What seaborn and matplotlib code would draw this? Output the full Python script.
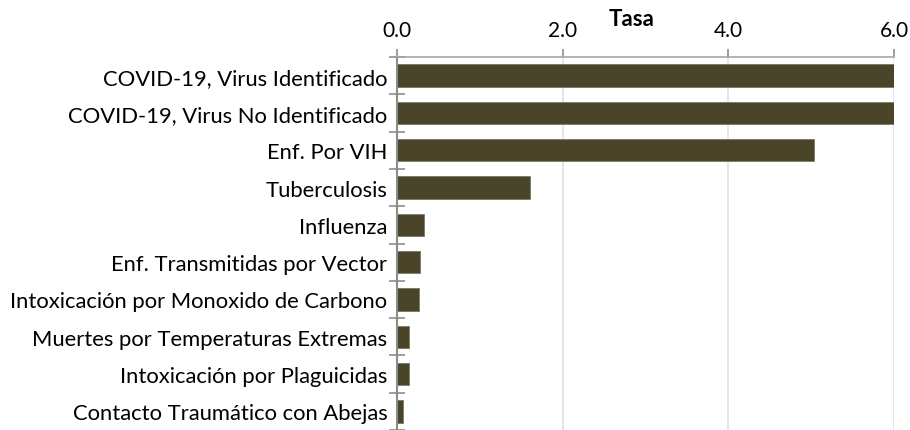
import matplotlib
matplotlib.use("Agg")
import matplotlib.pyplot as plt
import seaborn as sns
import numpy as np
import pandas as pd

# Datos
causas = [
    "COVID-19, Virus Identificado",
    "COVID-19, Virus No Identificado",
    "Enf. Por VIH",
    "Tuberculosis",
    "Influenza",
    "Enf. Transmitidas por Vector",
    "Intoxicación por Monoxido de Carbono",
    "Muertes por Temperaturas Extremas",
    "Intoxicación por Plaguicidas",
    "Contacto Traumático con Abejas",
]
tasas = [24.0, 9.0, 5.04, 1.61, 0.33, 0.28, 0.26, 0.145, 0.14, 0.07]
xticks = [0.0, 2.0, 4.0, 6.0]

df = pd.DataFrame({"Causa": causas, "Tasa": tasas})

plt.rcParams["font.family"] = ["Lato", "DejaVu Sans"]

fig = plt.figure(figsize=(9.10, 4.31), dpi=100)
ax = fig.add_axes([0.4363, 0.0, 0.9824 - 0.4363, 0.8654])

sns.barplot(data=df, x="Tasa", y="Causa", orient="h", color="#4a4529",
            saturation=1, width=0.6, edgecolor="#7a7a6a", linewidth=0.6, ax=ax)

ax.set_xlim(0, 6.0)
ax.set_ylim(9.5, -0.5)
ax.xaxis.tick_top()
ax.set_xticks(xticks)
ax.set_xticklabels([f"{t:.1f}" for t in xticks], fontsize=15)
ax.tick_params(axis="x", which="major", direction="out", length=6, width=1.2,
               color="#8c8c8c", pad=6, top=True, bottom=False)
ax.grid(axis="x", color="#e0e0e6", linewidth=1.2)
ax.grid(axis="y", visible=False)
ax.set_axisbelow(True)

# Marcas entre categorias
ax.set_yticks(np.arange(-0.5, 10, 1), minor=True)
ax.tick_params(axis="y", which="minor", direction="inout", length=11,
               width=1.2, color="#8c8c8c", left=True)
ax.tick_params(axis="y", which="major", length=0, pad=7, labelsize=15.8)
ax.set_xlabel("")
ax.set_ylabel("")

for side in ["right", "bottom"]:
    ax.spines[side].set_visible(False)
ax.spines["top"].set_color("#a6a6a6")
ax.spines["top"].set_linewidth(1.2)
ax.spines["left"].set_color("#8c8c8c")
ax.spines["left"].set_linewidth(1.5)

fig.text(0.694, 0.955, "Tasa", ha="center", va="center",
         fontsize=16, fontweight="bold")

fig.savefig("out.png", dpi=100)
